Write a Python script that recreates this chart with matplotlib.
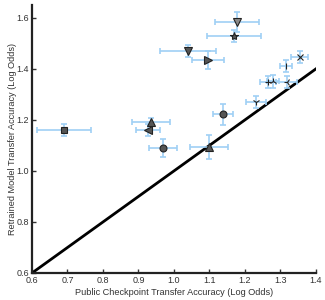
import matplotlib
matplotlib.use("Agg")
import matplotlib.pyplot as plt

plt.rcParams['font.family'] = ['Liberation Sans', 'DejaVu Sans']

x_vals = [0.690, 0.935, 0.927, 0.969, 1.099, 1.138, 1.231, 1.039, 1.096, 1.169, 1.177, 1.355, 1.315, 1.265, 1.279, 1.318]
y_vals = [1.161, 1.192, 1.161, 1.090, 1.095, 1.222, 1.270, 1.470, 1.435, 1.530, 1.584, 1.447, 1.410, 1.349, 1.351, 1.349]
x_err = [0.077, 0.054, 0.034, 0.040, 0.054, 0.028, 0.027, 0.079, 0.045, 0.077, 0.062, 0.024, 0.017, 0.023, 0.017, 0.030]
y_err = [0.024, 0.016, 0.024, 0.035, 0.047, 0.040, 0.024, 0.024, 0.035, 0.024, 0.040, 0.024, 0.024, 0.024, 0.024, 0.024]
markers = ['s', '^', '<', 'o', '^', 'o', '1', 'v', '>', '*', 'v', 'x', '|', '+', '2', '3']

xlim = (0.6, 1.4)
ylim = (0.6, 1.65)
xticks = [0.6, 0.7, 0.8, 0.9, 1.0, 1.1, 1.2, 1.3, 1.4]
yticks = [0.6, 0.8, 1.0, 1.2, 1.4, 1.6]

fig = plt.figure(figsize=(3.25, 3.0), dpi=100)
ax = fig.add_axes([0.0985, 0.09, 0.8735, 0.893])

ax.plot([0.6, 1.4], [0.6, 1.4], color='black', lw=2.0, zorder=2)

for i, (x, y, xe, ye, m) in enumerate(zip(x_vals, y_vals, x_err, y_err, markers)):
    ax.errorbar(x, y, xerr=xe, yerr=ye, fmt='none', ecolor='#9fd0f5', elinewidth=1.2,
                capsize=2.5, capthick=1.2, zorder=3)
    ms = 6 if m == '*' else (5.5 if m in ('^', 'v', '<', '>') else 5)
    face = '#8a8a8a' if i == 10 else '#555555'
    ax.plot(x, y, marker=m, color=face, markeredgecolor='#222222',
            markersize=ms, markeredgewidth=0.8, linestyle='none', zorder=4)

ax.set_xlim(*xlim)
ax.set_ylim(*ylim)
ax.set_xticks(xticks)
ax.set_yticks(yticks)
ax.set_xticklabels([f"{v:.1f}" for v in xticks])
ax.set_yticklabels([f"{v:.1f}" for v in yticks])
ax.tick_params(direction='in', length=3, width=1, labelsize=6.5, pad=2, colors='#333333')
for s in ['top', 'right']:
    ax.spines[s].set_visible(False)
for s in ['left', 'bottom']:
    ax.spines[s].set_linewidth(1.6)
    ax.spines[s].set_color('#222222')

ax.set_xlabel('Public Checkpoint Transfer Accuracy (Log Odds)', fontsize=6.6, labelpad=2, color='#333333')
ax.set_ylabel('Retrained Model Transfer Accuracy (Log Odds)', fontsize=6.6, labelpad=0, color='#333333')

fig.savefig('out.png', dpi=100)
